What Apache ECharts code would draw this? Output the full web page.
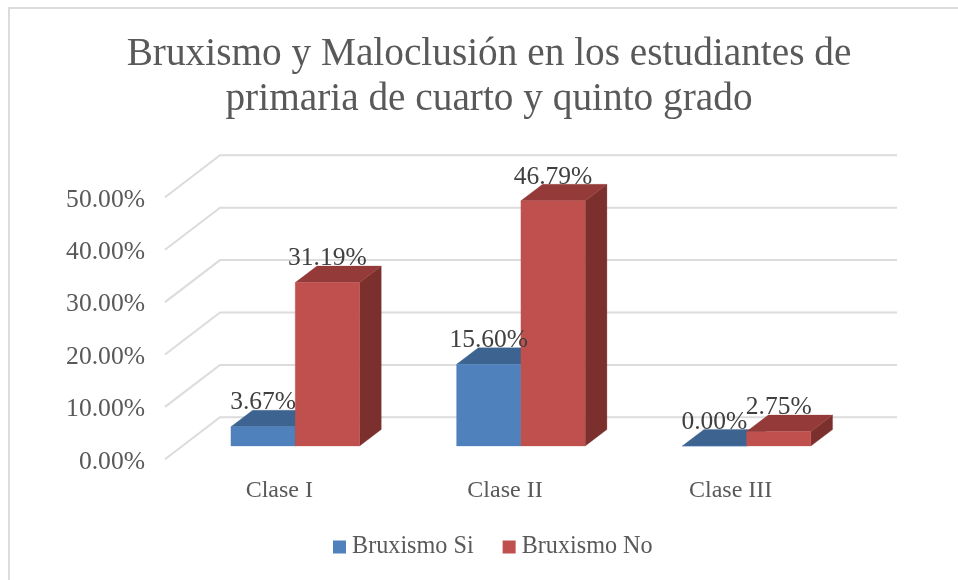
<!DOCTYPE html>
<html><head><meta charset="utf-8">
<style>html,body{margin:0;padding:0;background:#fff}#c{width:958px;height:580px}</style>
<script src="https://cdn.jsdelivr.net/npm/echarts@6/dist/echarts.min.js"></script>
</head><body><div id="c"></div>
<script>
const categories = ['Clase I', 'Clase II', 'Clase III'];
const bruxismoSi = [3.67, 15.60, 0.00];
const bruxismoNo = [31.19, 46.79, 2.75];
const yTicks = [0, 10, 20, 30, 40, 50];
const titleLines = 'Bruxismo y Maloclusión en los estudiantes de\nprimaria de cuarto y quinto grado';

const FONT = '"Liberation Serif", serif';
const FLOOR_DX = 55, FLOOR_DY = 42;      // wall depth
const BAR_OX = 17.4, BAR_OY = 13.3;      // bar front plane offset from the axis plane
const BAR_DX = 21.7, BAR_DY = 16.5;      // bar depth
const BAR_FRAC = 0.285;

function barRenderer(side, front, top, right) {
  return function (params, api) {
    const idx = api.value(0), v = api.value(1);
    const band = api.size([1, 0])[0];
    const w = band * BAR_FRAC;
    const base = api.coord([idx, 0]);
    const peak = api.coord([idx, v]);
    const x0 = base[0] + BAR_OX + (side < 0 ? -w : 0);
    const x1 = x0 + w;
    const y0 = base[1] - BAR_OY;
    const y1 = peak[1] - BAR_OY;
    const poly = (points, fill) => ({ type: 'polygon', shape: { points }, style: { fill, stroke: fill, lineWidth: 0.3 } });
    return {
      type: 'group',
      children: [
        poly([[x1, y0], [x1 + BAR_DX, y0 - BAR_DY], [x1 + BAR_DX, y1 - BAR_DY], [x1, y1]], right),
        poly([[x0, y1], [x0 + BAR_DX, y1 - BAR_DY], [x1 + BAR_DX, y1 - BAR_DY], [x1, y1]], top),
        poly([[x0, y0], [x1, y0], [x1, y1], [x0, y1]], front),
        {
          type: 'text', z2: 100, silent: true,
          style: {
            x: (x0 + x1) / 2, y: y1 - BAR_DY - 7.5,
            text: v.toFixed(2) + '%',
            align: 'center', verticalAlign: 'middle',
            fill: '#404040', font: '25.5px ' + FONT
          }
        }
      ]
    };
  };
}

function gridRenderer(params, api) {
  const v = api.value(0);
  const a = api.coord([0, v]);
  const left = params.coordSys.x, right = left + params.coordSys.width;
  return {
    type: 'polyline',
    shape: { points: [[left, a[1]], [left + FLOOR_DX, a[1] - FLOOR_DY], [right + FLOOR_DX, a[1] - FLOOR_DY]] },
    style: { fill: 'none', stroke: '#dcdcdc', lineWidth: 2 }
  };
}

const chart = echarts.init(document.getElementById('c'), null, { renderer: 'canvas' });
chart.setOption({
  animation: false,
  backgroundColor: '#ffffff',
  graphic: [{
    type: 'polyline', silent: true, z: 0,
    shape: { points: [[9, 580], [9, 8], [958, 8]] },
    style: { fill: 'none', stroke: '#dcdcdc', lineWidth: 2 }
  }],
  title: {
    text: titleLines, left: 484, top: 27, textAlign: 'center',
    textStyle: { fontFamily: FONT, fontSize: 39.3, fontWeight: 'normal', color: '#595959', lineHeight: 45 }
  },
  legend: {
    left: 328, top: 530, itemWidth: 13, itemHeight: 13, itemGap: 29, icon: 'rect',
    data: ['Bruxismo Si', 'Bruxismo No'],
    textStyle: { fontFamily: FONT, fontSize: 24.2, color: '#595959', padding: [0, 0, 0, 1] }
  },
  grid: { left: 165, right: 116, top: 197.3, bottom: 120.7 },
  xAxis: {
    type: 'category', data: categories,
    axisLine: { show: false }, axisTick: { show: false }, splitLine: { show: false },
    axisLabel: { margin: 19, fontFamily: FONT, fontSize: 24, color: '#595959', padding: [0, 0, 0, 3] }
  },
  yAxis: {
    type: 'value', min: 0, max: 50, interval: 10,
    axisLine: { show: false }, axisTick: { show: false }, splitLine: { show: false },
    axisLabel: { margin: 20, fontFamily: FONT, fontSize: 25.6, color: '#595959', verticalAlign: 'top', lineHeight: 5, formatter: v => v.toFixed(2) + '%' }
  },
  series: [
    { type: 'custom', silent: true, clip: false, legendHoverLink: false, renderItem: gridRenderer,
      data: yTicks.map(v => [v]), encode: { y: 0 }, z: 1 },
    { type: 'custom', name: 'Bruxismo Si', clip: false, renderItem: barRenderer(-1, '#4f81bd', '#3d6390', '#345577'),
      itemStyle: { color: '#4f81bd' }, data: bruxismoSi.map((v, i) => [i, v]), encode: { x: 0, y: 1 }, z: 2 },
    { type: 'custom', name: 'Bruxismo No', clip: false, renderItem: barRenderer(1, '#c0504d', '#943a38', '#7b302e'),
      itemStyle: { color: '#c0504d' }, data: bruxismoNo.map((v, i) => [i, v]), encode: { x: 0, y: 1 }, z: 2 }
  ]
});
</script></body></html>
